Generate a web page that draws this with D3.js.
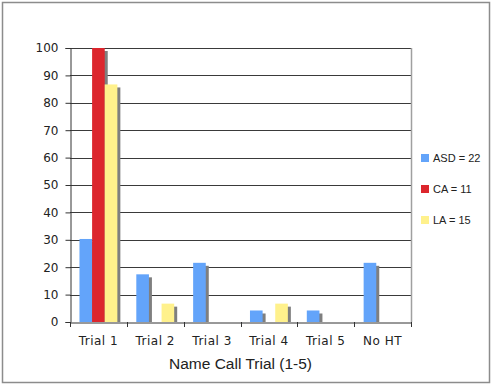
<!DOCTYPE html>
<html>
<head>
<meta charset="utf-8">
<script src="https://cdn.jsdelivr.net/npm/d3@7"></script>
<style>
  body { margin: 0; background: #fff; }
  svg { display: block; }
</style>
</head>
<body>
<div id="chart"></div>
<script>
const categories = ["Trial 1", "Trial 2", "Trial 3", "Trial 4", "Trial 5", "No HT"];
const seriesNames = ["ASD = 22", "CA = 11", "LA = 15"];
const asd = [30.3, 17.4, 21.6, 4.2, 4.2, 21.6];
const ca = [100, 0, 0, 0, 0, 0];
const la = [86.7, 6.7, 0, 6.7, 0, 0];
const colors = ["#63a4fa", "#dc262d", "#fff18c"];
const yTicks = [0, 10, 20, 30, 40, 50, 60, 70, 80, 90, 100];

const W = 492, H = 385;
const plot = { left: 70, right: 411, top: 48, bottom: 322 };

const svg = d3.select("#chart").append("svg")
    .attr("width", W)
    .attr("height", H);

// outer frame
svg.append("rect")
    .attr("x", 2.5).attr("y", 2.5)
    .attr("width", W - 5).attr("height", H - 5)
    .attr("fill", "#fff")
    .attr("stroke", "#8c8c8c")
    .attr("stroke-width", 1.5);

const x = d3.scaleBand()
    .domain(categories)
    .range([plot.left, plot.right]);

const y = d3.scaleLinear()
    .domain([0, 100])
    .range([plot.bottom, plot.top]);

// bars inside each category, excel-ish gap width 150%
const inner = d3.scaleBand()
    .domain(seriesNames)
    .range([0, x.bandwidth()])
    .paddingOuter(0.75)
    .paddingInner(0);

// gridlines
svg.append("g")
    .selectAll("line")
    .data(yTicks.slice(1))
    .join("line")
    .attr("x1", plot.left).attr("x2", plot.right)
    .attr("y1", d => Math.round(y(d)) + 0.5)
    .attr("y2", d => Math.round(y(d)) + 0.5)
    .attr("stroke", "#3a3a3a")
    .attr("stroke-width", 1);

// plot area right border
svg.append("line")
    .attr("x1", plot.right + 0.5).attr("x2", plot.right + 0.5)
    .attr("y1", plot.top).attr("y2", plot.bottom)
    .attr("stroke", "#a0a0a0")
    .attr("stroke-width", 1.5);

const data = [asd, ca, la];
const bars = [];
data.forEach((vals, si) => {
    vals.forEach((v, ci) => {
        if (v > 0) bars.push({ s: seriesNames[si], c: categories[ci], v: v, color: colors[si] });
    });
});

const g = svg.append("g");
// shadows first
g.selectAll("rect.shadow")
    .data(bars)
    .join("rect")
    .attr("class", "shadow")
    .attr("x", d => x(d.c) + inner(d.s) + 3)
    .attr("y", d => y(d.v) + 3)
    .attr("width", inner.bandwidth())
    .attr("height", d => Math.max(0, y(0) - y(d.v) - 3))
    .attr("fill", "#7f7f7f");

g.selectAll("rect.bar")
    .data(bars)
    .join("rect")
    .attr("class", "bar")
    .attr("x", d => x(d.c) + inner(d.s))
    .attr("y", d => y(d.v))
    .attr("width", inner.bandwidth())
    .attr("height", d => y(0) - y(d.v))
    .attr("fill", d => d.color);

// y axis
const yAxis = svg.append("g")
    .attr("transform", `translate(${plot.left + 0.5},0)`)
    .call(d3.axisLeft(y).tickValues(yTicks).tickSize(5).tickPadding(7));
yAxis.select(".domain").attr("stroke", "#333");
yAxis.selectAll(".tick line").attr("stroke", "#333");
yAxis.selectAll("text")
    .attr("fill", "#222")
    .style("font-family", "DejaVu Sans, Verdana, sans-serif")
    .style("font-size", "12px");

// x axis
const xAxis = svg.append("g")
    .attr("transform", `translate(0,${plot.bottom + 0.5})`)
    .call(d3.axisBottom(x).tickSize(0).tickPadding(14).tickSizeOuter(0));
xAxis.select(".domain").attr("stroke", "#333");
xAxis.selectAll("text")
    .attr("fill", "#222")
    .style("font-family", "DejaVu Sans, Verdana, sans-serif")
    .style("font-size", "12px")
    .style("letter-spacing", "0.5px");

// category boundary ticks
svg.append("g")
    .selectAll("line")
    .data(categories.concat(["end"]))
    .join("line")
    .attr("x1", (d, i) => Math.round(plot.left + i * x.bandwidth()) + 0.5)
    .attr("x2", (d, i) => Math.round(plot.left + i * x.bandwidth()) + 0.5)
    .attr("y1", plot.bottom)
    .attr("y2", plot.bottom + 5)
    .attr("stroke", "#333");

// x axis title
svg.append("text")
    .attr("x", (plot.left + plot.right) / 2)
    .attr("y", 369)
    .attr("text-anchor", "middle")
    .attr("fill", "#222")
    .style("font-family", "Liberation Sans, Arial, sans-serif")
    .style("font-size", "15.5px")
    .text("Name Call Trial (1-5)");

// legend
const legend = svg.append("g")
    .selectAll("g")
    .data(seriesNames)
    .join("g")
    .attr("transform", (d, i) => `translate(421,${158 + i * 31})`);
legend.append("rect")
    .attr("x", 0).attr("y", -4)
    .attr("width", 8).attr("height", 8)
    .attr("fill", (d, i) => colors[i]);
legend.append("text")
    .attr("x", 12)
    .attr("y", 4)
    .attr("fill", "#222")
    .style("font-family", "Liberation Sans, Arial, sans-serif")
    .style("font-size", "11px")
    .text(d => d);
</script>
</body>
</html>
